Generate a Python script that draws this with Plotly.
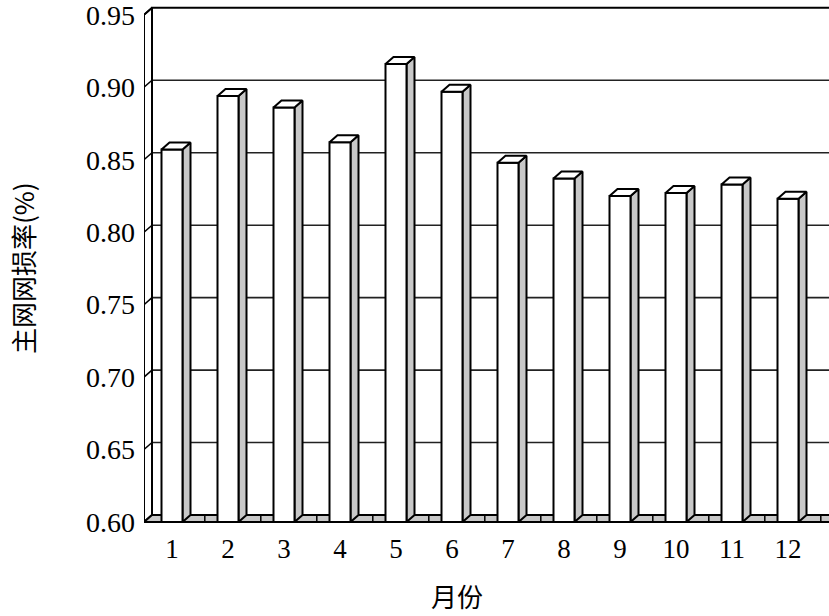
import plotly.graph_objects as go

# ---- data ----
months = [1, 2, 3, 4, 5, 6, 7, 8, 9, 10, 11, 12]
month_labels = ["1", "2", "3", "4", "5", "6", "7", "8", "9", "10", "11", "12"]
loss_rate = [0.857, 0.894, 0.886, 0.862, 0.916, 0.897, 0.848, 0.837, 0.825, 0.827, 0.833, 0.823]
y_ticks = [0.60, 0.65, 0.70, 0.75, 0.80, 0.85, 0.90, 0.95]
y_tick_labels = ["0.60", "0.65", "0.70", "0.75", "0.80", "0.85", "0.90", "0.95"]
x_title = "月份"
y_title = "主网网损率(%)"

# ---- layout geometry (pixels) ----
W, H = 829, 616
L, R, T, B = 144, 0, 0, 86
plot_w = W - L - R
plot_h = H - T - B
px_per_cat = 56.0
px_per_unit = 1449.0
y_min_v, y_max_v = y_ticks[0], y_ticks[-1]
x0 = 0.5
x1 = x0 + plot_w / px_per_cat
y_lo = y_min_v - 8 / px_per_unit
y_hi = y_lo + plot_h / px_per_unit

dx = 8 / px_per_cat      # depth offset in x units
dy = 7 / px_per_unit     # depth offset in y units
hw = 10.5 / px_per_cat   # half front width of bar

GRAY = "#c8c8c8"
LINE = dict(color="black", width=2)

fig = go.Figure()

def poly(xs, ys, fill, line=LINE):
    fig.add_trace(go.Scatter(x=xs, y=ys, mode="lines", fill="toself",
                             fillcolor=fill, line=line, hoverinfo="skip",
                             showlegend=False))

def lines(xs, ys, line=LINE):
    fig.add_trace(go.Scatter(x=xs, y=ys, mode="lines", line=line,
                             hoverinfo="skip", showlegend=False))

# back wall
bx0 = x0 + dx
poly([bx0, x1 + 1, x1 + 1, bx0, bx0], [y_min_v + dy, y_min_v + dy, y_max_v + dy, y_max_v + dy, y_min_v + dy],
     "white")
# gridlines on back wall
gx, gy = [], []
for v in y_ticks[1:-1]:
    gx += [bx0, x1 + 1, None]
    gy += [v + dy, v + dy, None]
lines(gx, gy, dict(color="#222222", width=1.6))

# left wall
poly([x0, x0, bx0, bx0, x0], [y_min_v, y_max_v, y_max_v + dy, y_min_v + dy, y_min_v], "white")
tx, ty = [], []
for v in y_ticks:
    tx += [x0, bx0, None]
    ty += [v, v + dy, None]
lines(tx, ty, dict(color="black", width=1.5))

# floor
n = len(months)
fx_end = x0 + n
poly([x0, fx_end + 0.3, fx_end + 0.3 + dx, bx0, x0],
     [y_min_v, y_min_v, y_min_v + dy, y_min_v + dy, y_min_v], GRAY)
kx, ky = [], []
for k in range(1, n + 1):
    xb = x0 + k + dx * 0.6
    kx += [xb, xb, None]
    ky += [y_min_v, y_min_v + dy, None]
lines(kx, ky, dict(color="black", width=1.5))

# bars
front_x, front_y, side_x, side_y, top_x, top_y = [], [], [], [], [], []
for m, v in zip(months, loss_rate):
    xl, xr = m - hw, m + hw
    front_x += [xl, xr, xr, xl, xl, None]
    front_y += [y_min_v, y_min_v, v, v, y_min_v, None]
    side_x += [xr, xr + dx, xr + dx, xr, xr, None]
    side_y += [y_min_v, y_min_v + dy, v + dy, v, y_min_v, None]
    top_x += [xl, xr, xr + dx, xl + dx, xl, None]
    top_y += [v, v, v + dy, v + dy, v, None]
poly(side_x, side_y, GRAY)
poly(front_x, front_y, "white")
poly(top_x, top_y, "white")

x_tick_font = dict(family="Liberation Serif", size=27, color="black")
y_tick_font = dict(family="Liberation Serif", size=28, color="black")
fig.update_layout(
    template="none",
    width=W, height=H,
    margin=dict(l=L, r=R, t=T, b=B, pad=0, autoexpand=False),
    paper_bgcolor="white", plot_bgcolor="white",
    xaxis=dict(range=[x0, x1], tickmode="array", tickvals=months, ticktext=month_labels,
               showgrid=False, zeroline=False, showline=False, ticks="", automargin=False,
               tickfont=x_tick_font, ticklabelstandoff=0),
    yaxis=dict(range=[y_lo, y_hi], tickmode="array", tickvals=y_ticks, ticktext=y_tick_labels,
               showgrid=False, zeroline=False, showline=False, ticks="", automargin=False,
               tickfont=y_tick_font, ticklabelstandoff=8, ticklabeloverflow="allow"),
    annotations=[
        dict(text=x_title, xref="paper", yref="paper",
             x=(457 - L) / plot_w, y=(plot_h - 595) / plot_h,
             xanchor="center", yanchor="middle",
             showarrow=False, font=dict(family="Noto Sans CJK SC", size=26, color="black")),
        dict(text=y_title, xref="paper", yref="paper", textangle=-90,
             x=(22 - L) / plot_w, y=(plot_h - 268) / plot_h,
             xanchor="center", yanchor="middle",
             showarrow=False, font=dict(family="Noto Sans CJK SC", size=26, color="black")),
    ],
)

fig.write_html("out.html", config={"displayModeBar": False},
               post_script="document.body.style.margin='0';document.body.style.overflow='hidden';")
